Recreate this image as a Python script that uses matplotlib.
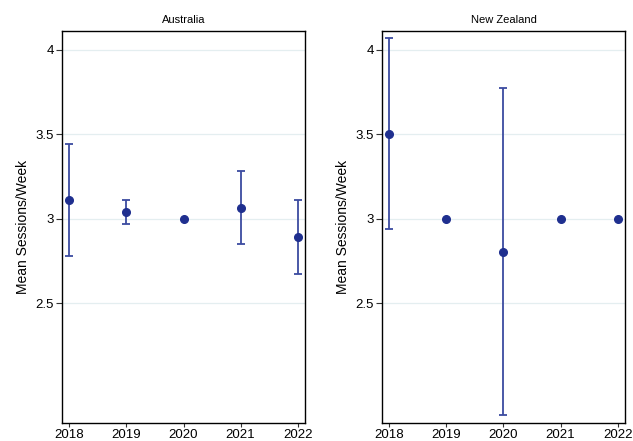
import numpy as np
import matplotlib.pyplot as plt

plt.rcParams["font.family"] = ["Liberation Sans", "DejaVu Sans"]

years = [2018, 2019, 2020, 2021, 2022]

au_mean = [3.11, 3.04, 3.00, 3.06, 2.89]
au_low = [2.78, 2.97, 3.00, 2.85, 2.67]
au_high = [3.44, 3.11, 3.00, 3.28, 3.11]

nz_mean = [3.50, 3.00, 2.80, 3.00, 3.00]
nz_low = [2.94, 3.00, 1.84, 3.00, 3.00]
nz_high = [4.07, 3.00, 3.77, 3.00, 3.00]

panels = [("Australia", au_mean, au_low, au_high),
          ("New Zealand", nz_mean, nz_low, nz_high)]

fig = plt.figure(figsize=(6.33, 4.41), dpi=100)
lefts = [62 / 633, 382 / 633]
for left, (title, mean, low, high) in zip(lefts, panels):
    ax = fig.add_axes([left, 18 / 441, 243 / 633, 392 / 441])
    mean = np.array(mean)
    yerr = [mean - np.array(low), np.array(high) - mean]
    has_bar = (yerr[0] > 0) | (yerr[1] > 0)
    x = np.array(years)
    ax.errorbar(x[has_bar], mean[has_bar],
                yerr=[yerr[0][has_bar], yerr[1][has_bar]],
                fmt="none", ecolor="#3c4ba0", elinewidth=1.3,
                capsize=3, capthick=1.3, zorder=2)
    ax.plot(x, mean, "o", color="#1f2f8f", markersize=5.5, zorder=3)

    ax.set_xlim(2017.87, 2022.13)
    ax.set_ylim(1.79, 4.11)
    ax.set_yticks([2.5, 3, 3.5, 4])
    ax.set_yticklabels(["2.5", "3", "3.5", "4"])
    ax.set_xticks(years)
    ax.grid(axis="y", color="#e4eef0", linewidth=0.9)
    ax.set_axisbelow(True)
    ax.tick_params(axis="y", labelsize=9.5, length=4, width=0.8,
                   color="#333333", pad=2)
    ax.tick_params(axis="x", labelsize=9.5, length=3, width=0.8,
                   color="#333333", pad=1)
    ax.set_ylabel("Mean Sessions/Week", fontsize=10, labelpad=4)
    ax.set_title(title, fontsize=8, pad=6)
    for s in ax.spines.values():
        s.set_linewidth(1.0)

fig.savefig("out.png", dpi=100)
